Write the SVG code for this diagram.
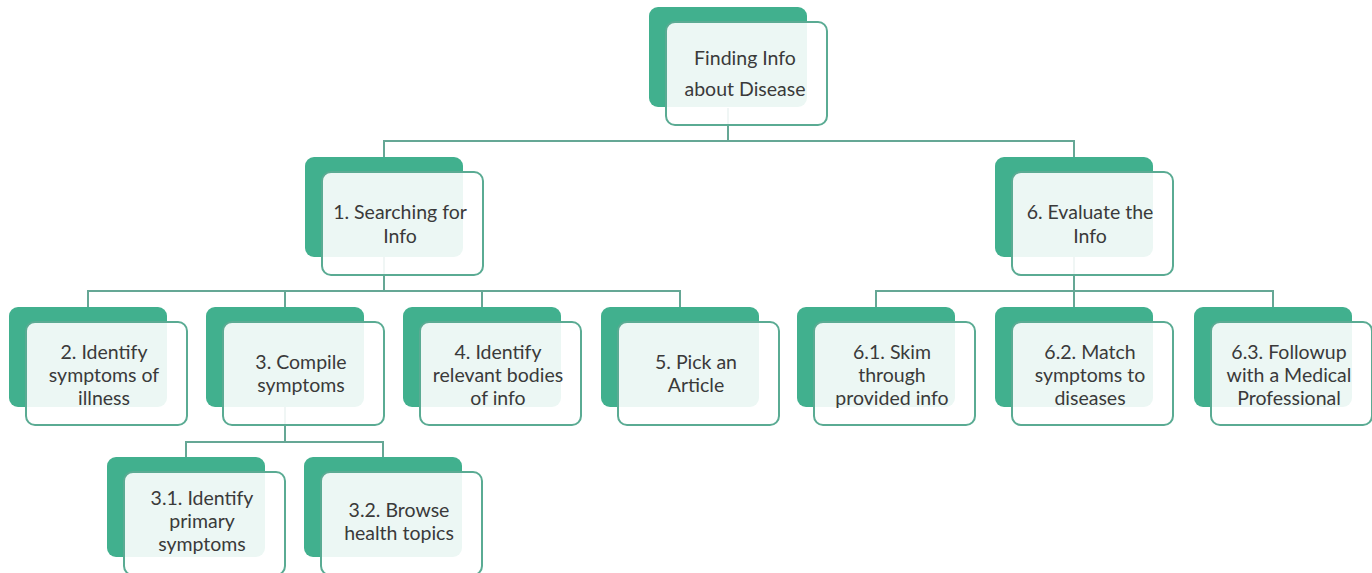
<svg xmlns="http://www.w3.org/2000/svg" width="1372" height="573" viewBox="0 0 1372 573">
<style>
.back{fill:#41b08e}
.front{fill:#ffffff;fill-opacity:0.9;stroke:#5aab93;stroke-width:2}
.lbl{font-family:Lato,"Open Sans",sans-serif;font-size:19.5px;fill:#3a3a3a;text-anchor:middle}
.conn{fill:none;stroke:#65a795;stroke-width:2}
</style>
<rect width="1372" height="573" fill="#ffffff"/>
<g id="connectors">
<path class="conn" d="M728 108V141M384 157V141H1074V157"/>
<path class="conn" d="M384 257V291M88 307V291H680V307M285 291V307M482 291V307"/>
<path class="conn" d="M1074 257V291M876 307V291H1273V307M1074 291V307"/>
<path class="conn" d="M285 407V442M186 457V442H383V457"/>
</g>
<g id="root"><rect class="back" x="649" y="7" width="158" height="100" rx="9"/><rect class="front" x="666" y="22" width="161" height="103" rx="9"/><text class="lbl" x="745" y="65">Finding Info</text><text class="lbl" x="745" y="96">about Disease</text></g>
<g id="n1"><rect class="back" x="305" y="157" width="158" height="100" rx="9"/><rect class="front" x="322" y="172" width="161" height="103" rx="9"/><text class="lbl" x="400" y="219">1. Searching for</text><text class="lbl" x="400" y="243">Info</text></g>
<g id="n6"><rect class="back" x="995" y="157" width="158" height="100" rx="9"/><rect class="front" x="1012" y="172" width="161" height="103" rx="9"/><text class="lbl" x="1090" y="219">6. Evaluate the</text><text class="lbl" x="1090" y="243">Info</text></g>
<g id="n2"><rect class="back" x="9" y="307" width="158" height="100" rx="9"/><rect class="front" x="26" y="322" width="161" height="103" rx="9"/><text class="lbl" x="104" y="359">2. Identify</text><text class="lbl" x="104" y="382">symptoms of</text><text class="lbl" x="104" y="405">illness</text></g>
<g id="n3"><rect class="back" x="206" y="307" width="158" height="100" rx="9"/><rect class="front" x="223" y="322" width="161" height="103" rx="9"/><text class="lbl" x="301" y="369">3. Compile</text><text class="lbl" x="301" y="392">symptoms</text></g>
<g id="n4"><rect class="back" x="403" y="307" width="158" height="100" rx="9"/><rect class="front" x="420" y="322" width="161" height="103" rx="9"/><text class="lbl" x="498" y="359">4. Identify</text><text class="lbl" x="498" y="382">relevant bodies</text><text class="lbl" x="498" y="405">of info</text></g>
<g id="n5"><rect class="back" x="601" y="307" width="158" height="100" rx="9"/><rect class="front" x="618" y="322" width="161" height="103" rx="9"/><text class="lbl" x="696" y="369">5. Pick an</text><text class="lbl" x="696" y="392">Article</text></g>
<g id="n61"><rect class="back" x="797" y="307" width="158" height="100" rx="9"/><rect class="front" x="814" y="322" width="161" height="103" rx="9"/><text class="lbl" x="892" y="359">6.1. Skim</text><text class="lbl" x="892" y="382">through</text><text class="lbl" x="892" y="405">provided info</text></g>
<g id="n62"><rect class="back" x="995" y="307" width="158" height="100" rx="9"/><rect class="front" x="1012" y="322" width="161" height="103" rx="9"/><text class="lbl" x="1090" y="359">6.2. Match</text><text class="lbl" x="1090" y="382">symptoms to</text><text class="lbl" x="1090" y="405">diseases</text></g>
<g id="n63"><rect class="back" x="1194" y="307" width="158" height="100" rx="9"/><rect class="front" x="1211" y="322" width="161" height="103" rx="9"/><text class="lbl" x="1289" y="359">6.3. Followup</text><text class="lbl" x="1289" y="382">with a Medical</text><text class="lbl" x="1289" y="405">Professional</text></g>
<g id="n31"><rect class="back" x="107" y="457" width="158" height="100" rx="9"/><rect class="front" x="124" y="472" width="161" height="103" rx="9"/><text class="lbl" x="202" y="505">3.1. Identify</text><text class="lbl" x="202" y="528">primary</text><text class="lbl" x="202" y="551">symptoms</text></g>
<g id="n32"><rect class="back" x="304" y="457" width="158" height="100" rx="9"/><rect class="front" x="321" y="472" width="161" height="103" rx="9"/><text class="lbl" x="399" y="517">3.2. Browse</text><text class="lbl" x="399" y="540">health topics</text></g>
</svg>
